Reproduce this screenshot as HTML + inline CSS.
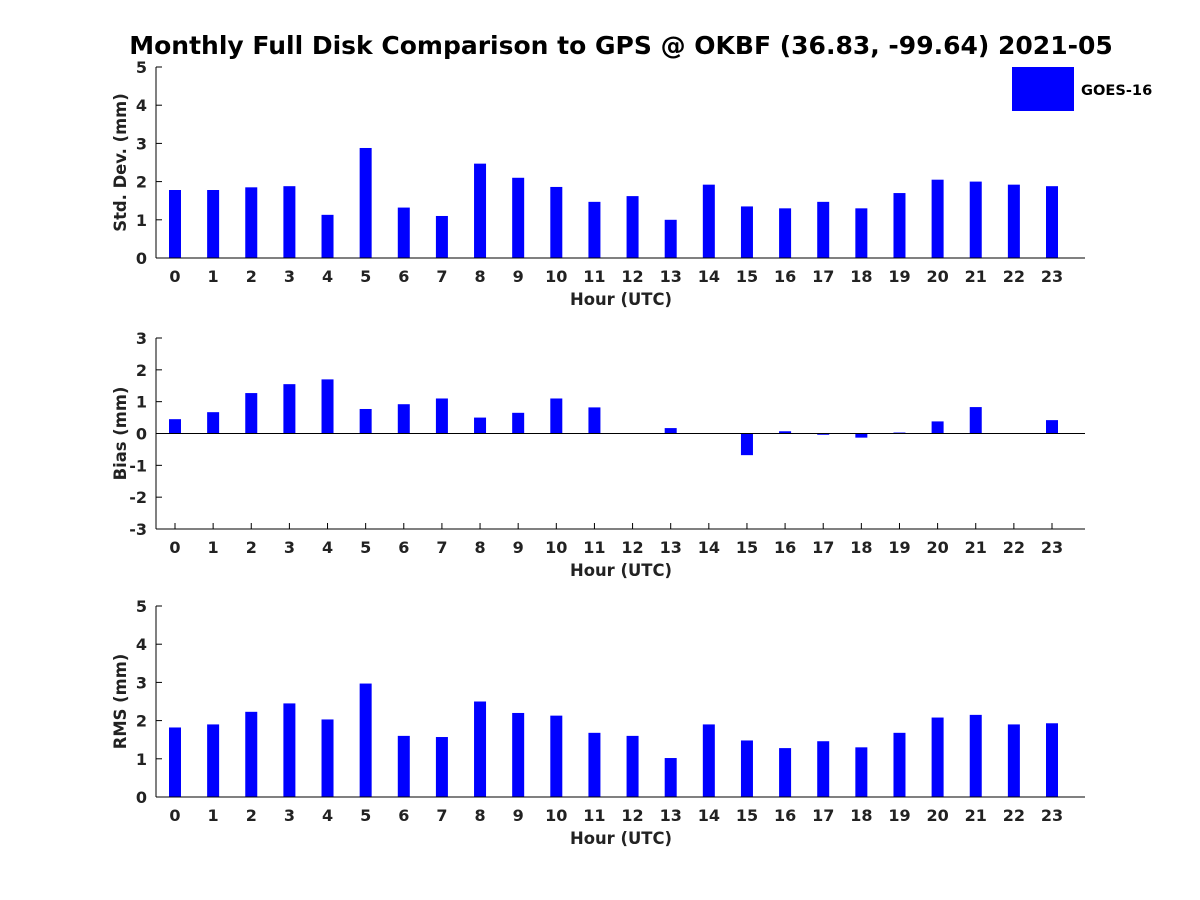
<!DOCTYPE html>
<html><head><meta charset="utf-8"><style>
body{margin:0;background:#fff}
svg{display:block;font-family:"DejaVu Sans","Liberation Sans",sans-serif;font-weight:bold}
</style></head><body>
<svg id="c" width="1200" height="900">
<text x="621" y="54" text-anchor="middle" font-size="25" fill="#000">Monthly Full Disk Comparison to GPS @ OKBF (36.83, -99.64) 2021-05</text>
<g>
<rect x="1012" y="67" width="62" height="44" fill="#0000ff"/>
<text x="1081" y="95" font-size="14.6" fill="#000">GOES-16</text>
</g>
</svg>
<script>
const hours=[0,1,2,3,4,5,6,7,8,9,10,11,12,13,14,15,16,17,18,19,20,21,22,23];
const stdVals=[1.78,1.78,1.85,1.88,1.13,2.88,1.32,1.1,2.47,2.1,1.86,1.47,1.62,1.0,1.92,1.35,1.3,1.47,1.3,1.7,2.05,2.0,1.92,1.88];
const biasVals=[0.45,0.67,1.27,1.55,1.7,0.77,0.92,1.1,0.5,0.65,1.1,0.82,0,0.17,0,-0.68,0.07,-0.04,-0.13,0.03,0.38,0.83,0,0.42];
const rmsVals=[1.82,1.9,2.23,2.45,2.03,2.97,1.6,1.57,2.5,2.2,2.13,1.68,1.6,1.02,1.9,1.48,1.28,1.46,1.3,1.68,2.08,2.15,1.9,1.93];
const stdTicks=[0,1,2,3,4,5];
const biasTicks=[-3,-2,-1,0,1,2,3];
const rmsTicks=[0,1,2,3,4,5];
const NS="http://www.w3.org/2000/svg";
const svg=document.getElementById('c');
function mk(t,a,p){const e=document.createElementNS(NS,t);for(const k in a)e.setAttribute(k,a[k]);(p||svg).appendChild(e);return e;}
const X0=156,X1=1085;
function xs(h){return 175+h*(1052-175)/23;}
function panel(name,top,bot,ymin,ymax,ticks,vals,ylabel){
  const g=mk('g',{});
  
  
  const ys=v=>bot-(v-ymin)/(ymax-ymin)*(bot-top);
  const z=ys(Math.max(ymin,0));
  hours.forEach(h=>{
    const x=xs(h);
    mk('line',{x1:x,x2:x,y1:bot,y2:bot-6,stroke:'#000'},g);
  });
  vals.forEach((v,i)=>{
    const y=ys(v);
    const r=mk('rect',{x:xs(hours[i])-6,y:Math.min(y,z),width:12,height:Math.abs(z-y),fill:'#0000ff'},g);
    
    
  });
  if(ymin<0){mk('line',{x1:X0,x2:X1,y1:z,y2:z,stroke:'#000','stroke-width':1},g);}
  mk('line',{x1:X0,x2:X0,y1:top,y2:bot,stroke:'#000','stroke-width':1},g);
  mk('line',{x1:X0,x2:X1,y1:bot,y2:bot,stroke:'#000','stroke-width':1},g);
  ticks.forEach(t=>{
    const y=ys(t);
    mk('line',{x1:X0,x2:X0+6,y1:y,y2:y,stroke:'#000'},g);
    const tx=mk('text',{x:X0-9,y:y+6,'text-anchor':'end','font-size':16,fill:'#222'},g);
    tx.textContent=t;
    
    
  });
  hours.forEach(h=>{
    const x=xs(h);
    const tx=mk('text',{x:x,y:bot+24,'text-anchor':'middle','font-size':16,fill:'#222'},g);
    tx.textContent=h;
    
    
  });
  const xl=mk('text',{x:621,y:bot+47,'text-anchor':'middle','font-size':16.4,fill:'#222'},g);
  xl.textContent='Hour (UTC)';
  
  
  const cy=(top+bot)/2;
  const yl=mk('text',{x:126,y:cy,'text-anchor':'middle','font-size':16.4,fill:'#222',transform:'rotate(-90 126 '+cy+')'},g);
  yl.textContent=ylabel;
  
  
}
panel('std',67,258,0,5,stdTicks,stdVals,'Std. Dev. (mm)');
panel('bias',338,529,-3,3,biasTicks,biasVals,'Bias (mm)');
panel('rms',606,797,0,5,rmsTicks,rmsVals,'RMS (mm)');
</script>
</body></html>
